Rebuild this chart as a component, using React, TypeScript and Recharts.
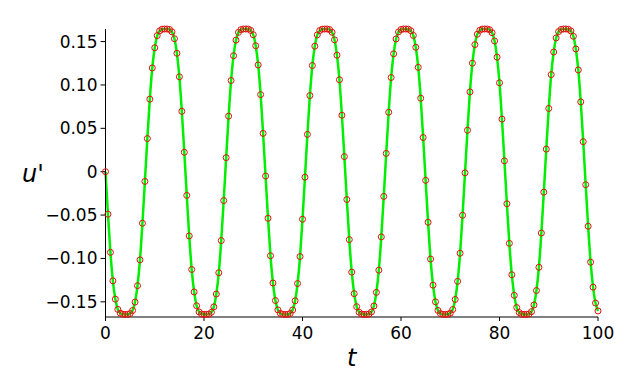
import React from 'react';
import { LineChart, Line, XAxis, YAxis } from 'recharts';

// sample times (every half unit)
const tValues = [
  0, 0.5, 1, 1.5, 2, 2.5, 3, 3.5, 4, 4.5, 5, 5.5, 6, 6.5, 7, 7.5, 8, 8.5, 9, 9.5,
  10, 10.5, 11, 11.5, 12, 12.5, 13, 13.5, 14, 14.5, 15, 15.5, 16, 16.5, 17, 17.5, 18, 18.5, 19, 19.5,
  20, 20.5, 21, 21.5, 22, 22.5, 23, 23.5, 24, 24.5, 25, 25.5, 26, 26.5, 27, 27.5, 28, 28.5, 29, 29.5,
  30, 30.5, 31, 31.5, 32, 32.5, 33, 33.5, 34, 34.5, 35, 35.5, 36, 36.5, 37, 37.5, 38, 38.5, 39, 39.5,
  40, 40.5, 41, 41.5, 42, 42.5, 43, 43.5, 44, 44.5, 45, 45.5, 46, 46.5, 47, 47.5, 48, 48.5, 49, 49.5,
  50, 50.5, 51, 51.5, 52, 52.5, 53, 53.5, 54, 54.5, 55, 55.5, 56, 56.5, 57, 57.5, 58, 58.5, 59, 59.5,
  60, 60.5, 61, 61.5, 62, 62.5, 63, 63.5, 64, 64.5, 65, 65.5, 66, 66.5, 67, 67.5, 68, 68.5, 69, 69.5,
  70, 70.5, 71, 71.5, 72, 72.5, 73, 73.5, 74, 74.5, 75, 75.5, 76, 76.5, 77, 77.5, 78, 78.5, 79, 79.5,
  80, 80.5, 81, 81.5, 82, 82.5, 83, 83.5, 84, 84.5, 85, 85.5, 86, 86.5, 87, 87.5, 88, 88.5, 89, 89.5,
  90, 90.5, 91, 91.5, 92, 92.5, 93, 93.5, 94, 94.5, 95, 95.5, 96, 96.5, 97, 97.5, 98, 98.5, 99, 99.5,
  100,
];

// u' at each sample
const uPrimeValues = [
  0, -0.049, -0.093, -0.1258, -0.1469, -0.1587, -0.1631, -0.1644, -0.1645, -0.1645, -0.1635, -0.16, -0.1503, -0.1314, -0.1016, -0.0594, -0.0112,
  0.0382, 0.0836, 0.1196, 0.1429, 0.1569, 0.1624, 0.1643, 0.1645, 0.1645, 0.164, 0.1612, 0.1533, 0.1365, 0.1094, 0.0696, 0.0224,
  -0.0273, -0.074, -0.1127, -0.1386, -0.1545, -0.1616, -0.1641, -0.1645, -0.1645, -0.1642, -0.1621, -0.1558, -0.141, -0.1165, -0.0794, -0.0333,
  0.0162, 0.064, 0.1051, 0.1337, 0.1517, 0.1606, 0.1638, 0.1645, 0.1645, 0.1644, 0.1628, 0.1579, 0.1452, 0.1231, 0.0889, 0.0442,
  -0.005, -0.0537, -0.0969, -0.1283, -0.1485, -0.1593, -0.1633, -0.1645, -0.1645, -0.1645, -0.1634, -0.1594, -0.1488, -0.1289, -0.0978, -0.0548, -0.0063,
  0.043, 0.0878, 0.1224, 0.1447, 0.1577, 0.1627, 0.1643, 0.1645, 0.1645, 0.1638, 0.1607, 0.152, 0.1343, 0.106, 0.0651, 0.0174,
  -0.0321, -0.0783, -0.1158, -0.1406, -0.1556, -0.162, -0.1642, -0.1645, -0.1645, -0.1641, -0.1617, -0.1548, -0.1391, -0.1135, -0.0751, -0.0285,
  0.0211, 0.0685, 0.1086, 0.1359, 0.153, 0.1611, 0.1639, 0.1645, 0.1645, 0.1643, 0.1625, 0.1571, 0.1434, 0.1203, 0.0847, 0.0394,
  -0.01, -0.0583, -0.1007, -0.1308, -0.15, -0.1599, -0.1635, -0.1645, -0.1645, -0.1644, -0.1631, -0.1589, -0.1473, -0.1264, -0.094, -0.0502, -0.0013,
  0.0478, 0.092, 0.1251, 0.1465, 0.1585, 0.163, 0.1644, 0.1645, 0.1645, 0.1636, 0.1602, 0.1507, 0.132, 0.1025, 0.0606, 0.0125,
  -0.037, -0.0826, -0.1188, -0.1425, -0.1566, -0.1623, -0.1643, -0.1645, -0.1645, -0.164, -0.1613, -0.1536, -0.137, -0.1102, -0.0707, -0.0236,
  0.026, 0.0729, 0.1119, 0.138, 0.1542, 0.1615, 0.164, 0.1645, 0.1645, 0.1642, 0.1622, 0.1561, 0.1415, 0.1173, 0.0805, 0.0346,
  -0.015, -0.0629, -0.1043, -0.1331, -0.1514, -0.1605,
];

const xMajorTicks = [0, 20, 40, 60, 80, 100];
const xMinorTicks = [10, 30, 50, 70, 90];
const yMajorTicks = [-0.15, -0.1, -0.05, 0, 0.05, 0.1, 0.15];
const yMinorTicks = [
  -0.16, -0.14, -0.13, -0.12, -0.11, -0.09, -0.08, -0.07, -0.06, -0.04, -0.03, -0.02, -0.01,
  0.01, 0.02, 0.03, 0.04, 0.06, 0.07, 0.08, 0.09, 0.11, 0.12, 0.13, 0.14, 0.16,
];

const data = tValues.map((t, i) => ({ t, u: uPrimeValues[i] }));

const FONT = 'DejaVu Sans';
const tickStyle = { fontSize: 17, fontFamily: FONT, fill: '#000' };
const axisLabelStyle = { fontSize: 24, fontFamily: FONT, fontStyle: 'italic', fill: '#000' };

const fmtY = (v: number) => (v === 0 ? '0' : (v < 0 ? '\u2212' : '') + Math.abs(v).toFixed(2));

export default function App() {
  return (
    <div style={{ position: 'absolute', left: 0, top: 0, background: '#fff' }}>
      <LineChart width={642} height={373} data={data} margin={{ top: 29, right: 44, bottom: 0, left: 0 }}>
        <XAxis
          dataKey="t"
          type="number"
          domain={[0, 100]}
          ticks={xMajorTicks}
          height={56}
          tick={tickStyle}
          tickSize={4}
          tickMargin={6}
          stroke="#000"
          label={{ value: 't', position: 'insideBottom', offset: 7, style: axisLabelStyle }}
        />
        <XAxis
          xAxisId="minor"
          type="number"
          domain={[0, 100]}
          ticks={xMinorTicks}
          height={0}
          tick={false}
          tickSize={2}
          axisLine={false}
          stroke="#000"
        />
        <YAxis
          type="number"
          domain={[-0.1675, 0.1644]}
          ticks={yMajorTicks}
          width={105.5}
          tick={tickStyle}
          tickSize={5}
          tickMargin={3}
          tickFormatter={fmtY}
          stroke="#000"
          label={{ value: "u'", position: 'insideLeft', offset: 22, style: axisLabelStyle }}
        />
        <YAxis
          yAxisId="minor"
          type="number"
          domain={[-0.1675, 0.1644]}
          ticks={yMinorTicks}
          width={0}
          tick={false}
          tickSize={3}
          axisLine={false}
          stroke="#000"
        />
        <Line
          dataKey="u"
          type="monotone"
          stroke="#00ee00"
          strokeWidth={2.5}
          dot={{ r: 3, stroke: '#e01010', strokeWidth: 1, fill: 'none' }}
          activeDot={false}
          isAnimationActive={false}
        />
      </LineChart>
    </div>
  );
}
